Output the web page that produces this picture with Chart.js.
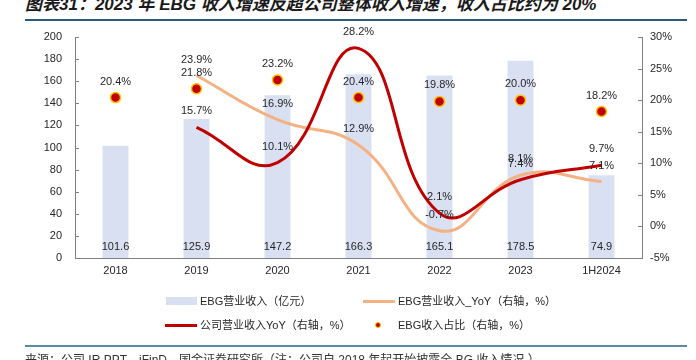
<!DOCTYPE html>
<html>
<head>
<meta charset="utf-8">
<script src="https://cdn.jsdelivr.net/npm/chart.js@4"></script>
<style>
  body { margin: 0; background: #fff; }
  #wrap { position: relative; width: 696px; height: 360px; overflow: hidden; font-family: "Liberation Sans", "Noto Sans CJK SC", sans-serif; }
  #chart { position: absolute; left: 0; top: 0; }
  .title { position: absolute; left: 25px; top: -5px; font-size: 17px; font-weight: bold; font-style: italic; color: #1a1a1a; white-space: nowrap; line-height: 20px; }
  .rule { position: absolute; left: 25px; width: 662px; height: 2px; }
  .lg { position: absolute; font-size: 11px; color: #262626; white-space: nowrap; line-height: 14px; }
  .sw { position: absolute; }
  .foot { position: absolute; left: 25px; top: 350px; font-size: 12px; color: #333; white-space: nowrap; }
</style>
</head>
<body>
<div id="wrap">
  <div class="title">图表31：2023 年 EBG 收入增速反超公司整体收入增速，收入占比约为 20%</div>
  <div class="rule" style="top:19px;background:#2b5b7c;"></div>
  <canvas id="chart" width="696" height="360"></canvas>

  <div class="sw" style="left:166px;top:297px;width:31px;height:8px;background:#d9e0f2;"></div>
  <div class="lg" style="left:200px;top:294px;">EBG营业收入（亿元）</div>
  <div class="sw" style="left:363px;top:300px;width:32px;height:3px;background:#f4b183;"></div>
  <div class="lg" style="left:398px;top:294px;">EBG营业收入_YoY（右轴，%）</div>
  <div class="sw" style="left:165px;top:324px;width:32px;height:3px;background:#c00000;"></div>
  <div class="lg" style="left:200px;top:318px;">公司营业收入YoY（右轴，%）</div>
  <div class="sw" style="left:375px;top:322px;width:4px;height:4px;border-radius:50%;background:#c00000;border:1px solid #ffc000;"></div>
  <div class="lg" style="left:398px;top:318px;">EBG收入占比（右轴，%）</div>

  <div class="rule" style="top:345px;background:#5a8ca8;"></div>
  <div class="foot">来源：公司 IR PPT，iFinD，国金证券研究所（注：公司自 2018 年起开始披露全 BG 收入情况 ）</div>
</div>
<script>
var labels = ['2018', '2019', '2020', '2021', '2022', '2023', '1H2024'];
var ebgRevenue = [101.6, 125.9, 147.2, 166.3, 165.1, 178.5, 74.9];
var ebgYoY = [null, 23.9, 16.9, 12.9, -0.7, 8.1, 7.1];
var companyYoY = [null, 15.7, 10.1, 28.2, 2.1, 7.4, 9.7];
var ebgShare = [20.4, 21.8, 23.2, 20.4, 19.8, 20.0, 18.2];

var leftTicks = [0, 20, 40, 60, 80, 100, 120, 140, 160, 180, 200];
var rightTicks = [-5, 0, 5, 10, 15, 20, 25, 30];

// value labels, drawn after datasets
var valueLabels = {
	id: 'valueLabels',
	afterDatasetsDraw: function (chart) {
		var ctx = chart.ctx;
		ctx.save();
		ctx.font = '11px "Liberation Sans", Arial, sans-serif';
		ctx.fillStyle = '#262626';
		ctx.textAlign = 'center';
		ctx.textBaseline = 'middle';
		chart.data.datasets.forEach(function (ds, i) {
			var meta = chart.getDatasetMeta(i);
			meta.data.forEach(function (el, j) {
				var v = ds.data[j];
				if (v === null || v === undefined) return;
				if (ds.type === 'bar') {
					ctx.fillText(v.toFixed(1), el.x, chart.scales.y.bottom - 11);
				} else {
					ctx.fillText(v.toFixed(1) + '%', el.x, el.y - 16);
				}
			});
		});
		ctx.restore();
	}
};

// short tick marks pointing into the plot
var innerTicks = {
	id: 'innerTicks',
	afterDraw: function (chart) {
		var ctx = chart.ctx;
		var y = chart.scales.y, y1 = chart.scales.y1;
		ctx.save();
		ctx.strokeStyle = '#808080';
		ctx.lineWidth = 1;
		ctx.beginPath();
		leftTicks.forEach(function (t) {
			var py = Math.round(y.getPixelForValue(t)) + 0.5;
			ctx.moveTo(y.right, py);
			ctx.lineTo(y.right + 4, py);
		});
		rightTicks.forEach(function (t) {
			var py = Math.round(y1.getPixelForValue(t)) + 0.5;
			ctx.moveTo(y1.left, py);
			ctx.lineTo(y1.left - 4, py);
		});
		ctx.stroke();
		ctx.restore();
	}
};

var ctx = document.getElementById('chart').getContext('2d');
var chart = new Chart(ctx, {
	data: {
		labels: labels,
		datasets: [{
			type: 'bar',
			label: 'EBG营业收入（亿元）',
			data: ebgRevenue,
			backgroundColor: '#d9e0f2',
			barPercentage: 0.64,
			categoryPercentage: 0.5,
			yAxisID: 'y',
			order: 4
		}, {
			type: 'line',
			label: 'EBG营业收入_YoY（右轴，%）',
			data: ebgYoY,
			borderColor: '#f4b183',
			borderWidth: 3,
			pointRadius: 0,
			tension: 0.45,
			yAxisID: 'y1',
			order: 3
		}, {
			type: 'line',
			label: '公司营业收入YoY（右轴，%）',
			data: companyYoY,
			borderColor: '#c00000',
			borderWidth: 3,
			pointRadius: 0,
			tension: 0.45,
			yAxisID: 'y1',
			order: 2
		}, {
			type: 'line',
			label: 'EBG收入占比（右轴，%）',
			data: ebgShare,
			showLine: false,
			pointRadius: 5,
			pointBackgroundColor: '#c00000',
			pointBorderColor: '#ffc000',
			pointBorderWidth: 1.5,
			yAxisID: 'y1',
			order: 1
		}]
	},
	options: {
		responsive: false,
		animation: false,
		layout: { padding: { top: 37, bottom: 72, left: 0, right: 0 } },
		plugins: {
			legend: { display: false },
			tooltip: { enabled: false }
		},
		scales: {
			x: {
				grid: { display: false, drawTicks: false },
				border: { color: '#808080', width: 1 },
				ticks: { color: '#262626', font: { size: 11, family: '"Liberation Sans", Arial, sans-serif' }, padding: 6, maxRotation: 0 },
				afterFit: function (s) { s.height = 30; }
			},
			y: {
				position: 'left',
				min: 0,
				max: 200,
				afterBuildTicks: function (s) { s.ticks = leftTicks.map(function (v) { return { value: v }; }); },
				grid: { display: false, drawTicks: false },
				border: { color: '#808080', width: 1 },
				ticks: { color: '#262626', font: { size: 11, family: '"Liberation Sans", Arial, sans-serif' }, padding: 13 },
				afterFit: function (s) { s.width = 75; }
			},
			y1: {
				position: 'right',
				min: -5,
				max: 30,
				afterBuildTicks: function (s) { s.ticks = rightTicks.map(function (v) { return { value: v }; }); },
				grid: { display: false, drawTicks: false },
				border: { color: '#808080', width: 1 },
				ticks: {
					color: '#262626',
					font: { size: 11, family: '"Liberation Sans", Arial, sans-serif' },
					padding: 8,
					callback: function (v) { return v + '%'; }
				},
				afterFit: function (s) { s.width = 54; }
			}
		}
	},
	plugins: [valueLabels, innerTicks]
});
</script>
</body>
</html>
